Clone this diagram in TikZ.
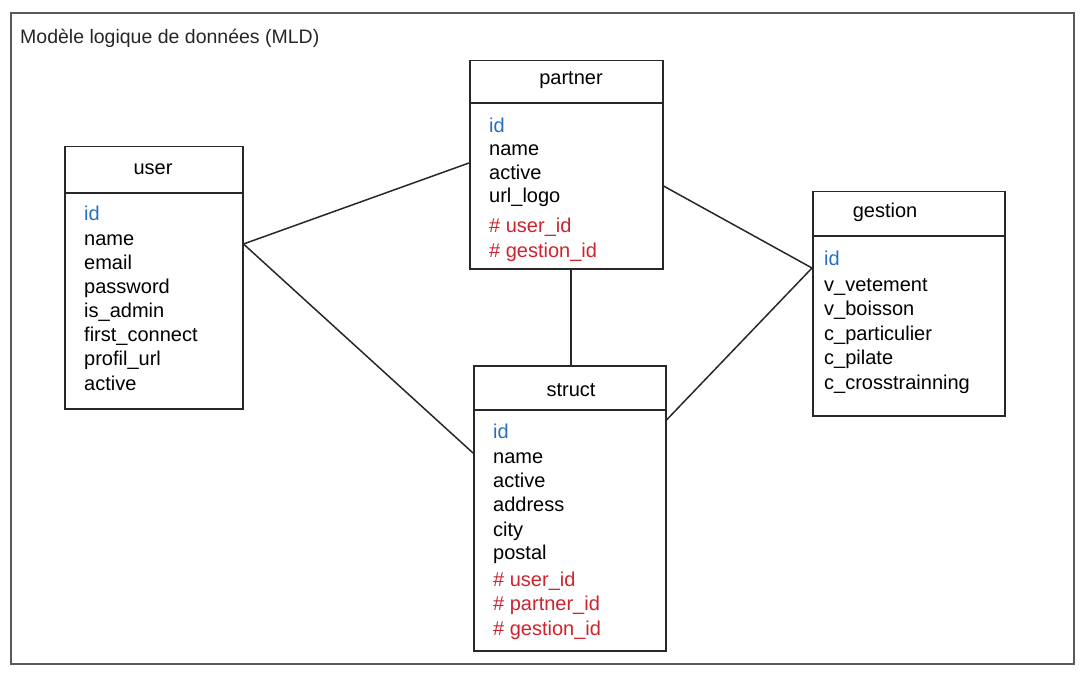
\documentclass[tikz,border=0pt]{standalone}
\usepackage{fontspec}
\setmainfont{Liberation Sans}
\definecolor{idblue}{RGB}{40,110,190}
\definecolor{fkred}{RGB}{205,35,45}
\definecolor{edge}{RGB}{40,40,40}
\definecolor{frame}{RGB}{90,90,90}
\begin{document}
\begin{tikzpicture}[x=1pt,y=-1pt,
  tbl/.style={draw=edge, line width=1.5pt, anchor=north west, inner sep=0pt},
  field/.style={anchor=base west, inner sep=0pt, font=\fontsize{20}{22}\selectfont},
  ttl/.style={anchor=base, inner sep=0pt, font=\fontsize{20}{22}\selectfont},
  link/.style={draw=edge, line width=1.5pt}]
\useasboundingbox (0,0) rectangle (1085,674);
\node[draw=frame, line width=1.6pt, anchor=north west, inner sep=0pt, minimum width=1063pt, minimum height=651pt] (frm) at (10,12) {};
\node[anchor=base west, inner sep=0pt, font=\fontsize{19.5}{22}\selectfont, text=black!85] (title) at (20,44) {Modèle logique de données (MLD)};

% user
\node[tbl, minimum width=178pt, minimum height=262pt] (user) at (64,146) {};
\draw[draw=edge, line width=1.5pt] (user.west |- 0,193) -- (user.east |- 0,193);
\node[ttl] (usert) at (153,175) {user};
\foreach \t/\c/\y [count=\i] in {id/idblue/221, name/black/245, email/black/269, password/black/293, is\_admin/black/317, first\_connect/black/341, profil\_url/black/365, active/black/390}
  \node[field, text=\c] (u\i) at (84,\y) {\t};

% partner
\node[tbl, minimum width=193pt, minimum height=208pt] (partner) at (469,60) {};
\draw[draw=edge, line width=1.5pt] (partner.west |- 0,103) -- (partner.east |- 0,103);
\node[ttl] (partnert) at (571,85) {partner};
\foreach \t/\c/\y [count=\i] in {id/idblue/133, name/black/156, active/black/180, url\_logo/black/203, \# user\_id/fkred/233, \# gestion\_id/fkred/257}
  \node[field, text=\c] (p\i) at (489,\y) {\t};

% gestion
\node[tbl, minimum width=192pt, minimum height=224pt] (gestion) at (812,191) {};
\draw[draw=edge, line width=1.5pt] (gestion.west |- 0,236) -- (gestion.east |- 0,236);
\node[ttl] (gestiont) at (885,217) {gestion};
\foreach \t/\c/\y [count=\i] in {id/idblue/265, v\_vetement/black/291, v\_boisson/black/315, c\_particulier/black/340, c\_pilate/black/364, c\_crosstrainning/black/389}
  \node[field, text=\c] (g\i) at (824,\y) {\t};

% struct
\node[tbl, minimum width=192pt, minimum height=285pt] (struct) at (473,365) {};
\draw[draw=edge, line width=1.5pt] (struct.west |- 0,410) -- (struct.east |- 0,410);
\node[ttl] (structt) at (571,396) {struct};
\foreach \t/\c/\y [count=\i] in {id/idblue/438, name/black/463, active/black/487, address/black/511, city/black/536, postal/black/559, \# user\_id/fkred/586, \# partner\_id/fkred/610, \# gestion\_id/fkred/635}
  \node[field, text=\c] (s\i) at (493,\y) {\t};

% connectors
\coordinate (uR) at (user.east |- 0,244);
\coordinate (gL) at (gestion.west |- 0,268);
\draw[link] (uR) -- (partner.west |- 0,163);
\draw[link] (uR) -- (struct.west |- 0,453);
\draw[link] (gL) -- (partner.east |- 0,186);
\draw[link] (gL) -- (struct.east |- 0,420);
\draw[link] (partner.south -| 571,0) -- (struct.north -| 571,0);
\end{tikzpicture}
\end{document}
